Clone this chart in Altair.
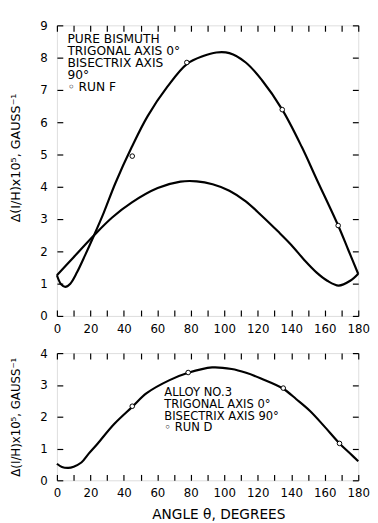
import altair as alt
import pandas as pd

# ---------------- data ----------------
# Upper panel: pure bismuth, curve with large amplitude (run F fit)
angle_big = [0, 2.5, 5, 8, 12, 17, 22.2, 28, 34.9, 44.7, 54.2, 66, 77.6, 87.4, 95.2, 103,
             112.8, 122.5, 134.6, 146.3, 155, 168, 174, 180]
value_big = [1.26, 0.98, 0.90, 1.0, 1.35, 1.9, 2.5, 3.2, 4.11, 5.23, 6.19, 7.10, 7.80, 8.05, 8.16, 8.14,
             7.85, 7.30, 6.39, 5.23, 4.25, 2.80, 2.05, 1.30]
# Upper panel: smaller curve
angle_small = [0, 10, 22.2, 33, 44.6, 60.2, 73.8, 83.5, 93, 103, 112.8, 122, 132, 140, 148,
               155, 161.5, 168.3, 175.2, 180]
value_small = [1.26, 1.82, 2.5, 3.05, 3.51, 3.96, 4.16, 4.17, 4.08, 3.88, 3.55, 3.12, 2.62, 2.2, 1.72,
               1.35, 1.09, 0.94, 1.09, 1.31]
# Upper panel: measured points (run F)
run_f_angle = [45, 77.6, 134.6, 168]
run_f_value = [4.95, 7.85, 6.39, 2.80]

# Lower panel: alloy no.3 curve
angle_alloy = [0, 3, 6.8, 10, 14.6, 19, 24.4, 34.2, 45, 53.6, 67.3, 78.4, 92.7, 104.4, 113, 121.9,
               135.2, 143, 151.2, 160, 168.8, 175, 180]
value_alloy = [0.52, 0.42, 0.39, 0.43, 0.56, 0.84, 1.16, 1.77, 2.31, 2.74, 3.15, 3.38, 3.55, 3.50, 3.38, 3.2,
               2.88, 2.55, 2.18, 1.68, 1.16, 0.85, 0.6]
run_d_angle = [45, 78.4, 135.2, 168.8]
run_d_value = [2.33, 3.39, 2.9, 1.16]

x_ticks = list(range(0, 181, 10))        # ticks every 10 degrees, labelled every 20
y_ticks_top = list(range(0, 10))
y_ticks_bot = list(range(0, 5))

top_note = ["PURE BISMUTH", "TRIGONAL AXIS 0°", "BISECTRIX AXIS", "90°", "◦ RUN F"]
bot_note = ["ALLOY NO.3", "TRIGONAL AXIS 0°", "BISECTRIX AXIS 90°", "◦ RUN D"]
y_title = "Δ(I/H)x10⁵, GAUSS⁻¹"
x_title = "ANGLE θ, DEGREES"

FONT = "DejaVu Sans"
W = 308
H_TOP = 297
H_BOT = 130
TICK = 6


def line_df(a, v, name):
    return pd.DataFrame({"angle": a, "value": v, "curve": name})


def panel(lines, pts_a, pts_v, ydom, yticks, height, note, note_x, note_y,
          note_size, note_lh, show_title, ytitle_size, ytitle_y):
    xs = alt.Scale(domain=[0, 180], nice=False)
    ys = alt.Scale(domain=ydom, nice=False)
    common = dict(grid=False, domain=False, tickColor="black", tickWidth=1.2,
                  tickSize=TICK, offset=-TICK, labelFont=FONT, labelFontSize=12,
                  labelColor="black", labelOverlap=False)
    x_bottom = alt.Axis(orient="bottom", values=x_ticks, labelPadding=8, labelFlush=False,
                        labelExpr="datum.value % 20 == 0 ? datum.label : ''",
                        title=x_title if show_title else None,
                        titleFont=FONT, titleFontSize=14, titleFontWeight="normal",
                        titleColor="black", titlePadding=9, titleX=165, **common)
    x_top = alt.Axis(orient="top", values=x_ticks, labels=False, title=None, **common)
    y_left = alt.Axis(orient="left", values=yticks, labelPadding=10,
                      title=y_title, titleFont=FONT, titleFontSize=ytitle_size,
                      titleFontWeight="normal", titleColor="black", titlePadding=18,
                      titleY=ytitle_y, **common)
    y_right = alt.Axis(orient="right", values=yticks, labels=False, title=None, **common)

    df = pd.concat(lines, ignore_index=True)
    curves = alt.Chart(df).mark_line(color="black", strokeWidth=2.2,
                                     interpolate="catmull-rom").encode(
        x=alt.X("angle:Q", scale=xs, axis=x_bottom),
        y=alt.Y("value:Q", scale=ys, axis=y_left),
        detail="curve:N")
    pts = alt.Chart(pd.DataFrame({"angle": pts_a, "value": pts_v})).mark_point(
        shape="circle", size=22, fill="white", stroke="black", strokeWidth=1,
        opacity=1, fillOpacity=1
    ).encode(x=alt.X("angle:Q", scale=xs, axis=x_top),
             y=alt.Y("value:Q", scale=ys, axis=y_right))
    txt = alt.Chart(pd.DataFrame({"k": [0]})).mark_text(
        text=note, align="left", baseline="alphabetic", font=FONT, fontSize=note_size,
        lineHeight=note_lh, color="black"
    ).encode(x=alt.value(note_x), y=alt.value(note_y))
    return alt.layer(curves, pts, txt).resolve_axis(
        x="independent", y="independent").properties(width=W, height=height)


top = panel(
    [line_df(angle_big, value_big, "big"), line_df(angle_small, value_small, "small")],
    run_f_angle, run_f_value, [0, 9], y_ticks_top, H_TOP,
    top_note, 10.7, 18, 12.5, 12.3, False, 13, 135)
bot = panel(
    [line_df(angle_alloy, value_alloy, "alloy")],
    run_d_angle, run_d_value, [0, 4], y_ticks_bot, H_BOT,
    bot_note, 109.7, 44, 11.8, 12, True, 12, 65)

chart = alt.vconcat(top, bot, spacing=11).properties(
    padding={"left": 0, "top": 5, "right": 0, "bottom": 0}
).configure_view(stroke="black", strokeWidth=1.5).configure(background="white")

chart.save("out.html", embed_options={"renderer": "svg", "actions": False})
